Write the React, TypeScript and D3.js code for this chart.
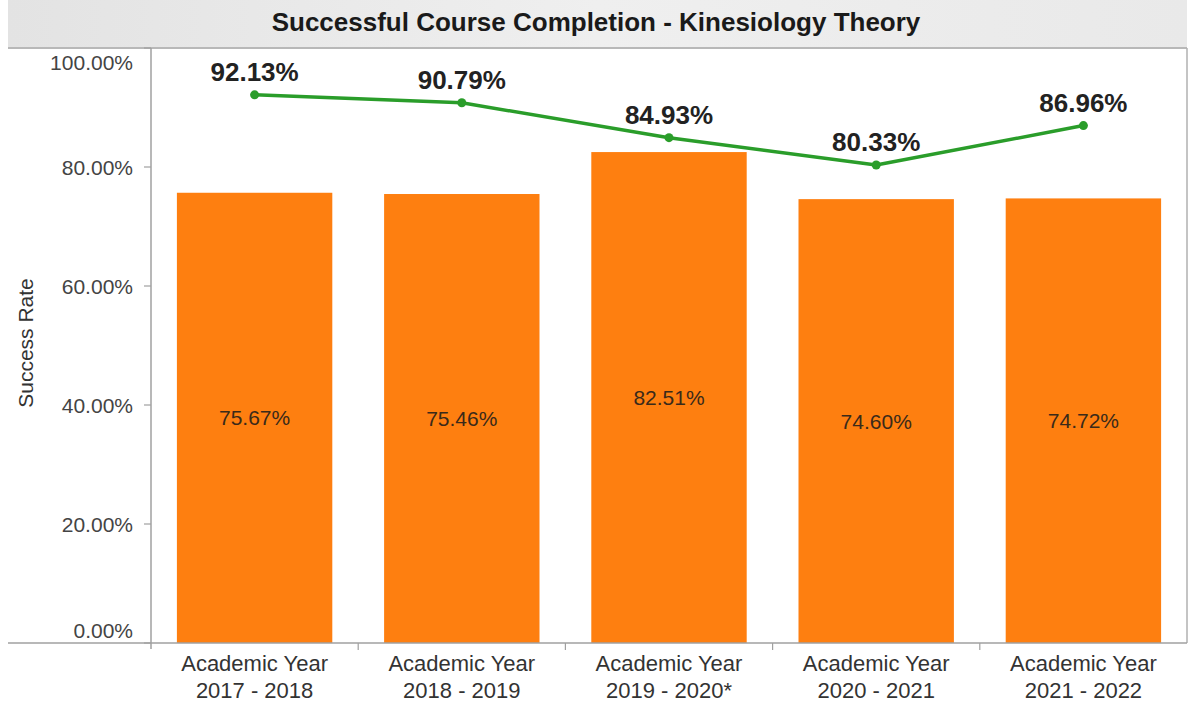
import React from "react";
import * as d3 from "d3";

const categoriesTop = ["Academic Year", "Academic Year", "Academic Year", "Academic Year", "Academic Year"];
const categoriesBottom = ["2017 - 2018", "2018 - 2019", "2019 - 2020*", "2020 - 2021", "2021 - 2022"];
const barValues = [75.67, 75.46, 82.51, 74.6, 74.72];
const lineValues = [92.13, 90.79, 84.93, 80.33, 86.96];
const yTicks = [0, 20, 40, 60, 80, 100];
const title = "Successful Course Completion - Kinesiology Theory";
const yTitle = "Success Rate";

const W = 1191;
const H = 703;
const left = 151;
const right = 1187;
const top = 48;
const bottom = 643;
const FONT = "'Liberation Sans', Arial, sans-serif";

export default function App() {
  const keys = categoriesBottom.map((_, i) => String(i));
  const x = d3.scaleBand<string>().domain(keys).range([left, right]).paddingInner(0.25).paddingOuter(0.125);
  const y = d3.scaleLinear().domain([0, 100]).range([bottom, top]);
  const line = d3
    .line<number>()
    .x((_, i) => (x(keys[i]) as number) + x.bandwidth() / 2)
    .y((d) => y(d));
  const fmt = (v: number) => v.toFixed(2) + "%";
  const step = x.step();

  return (
    <svg width={W} height={H} style={{ position: "absolute", left: 0, top: 0, background: "#fff" }} fontFamily={FONT}>
      <defs>
        <linearGradient id="tg" x1="0" x2="1" y1="0" y2="0">
          <stop offset="0" stopColor="#e3e3e3" />
          <stop offset="0.5" stopColor="#efefef" />
          <stop offset="1" stopColor="#e9e9e9" />
        </linearGradient>
      </defs>
      <rect x={8} y={0} width={right - 8} height={top - 1} fill="url(#tg)" />
      <text x={596} y={22} textAnchor="middle" dominantBaseline="central" fontSize={26} fontWeight="bold" fill="#1a1a1a">
        {title}
      </text>

      {/* bars */}
      {barValues.map((v, i) => (
        <rect key={"b" + i} x={x(keys[i])} y={y(v)} width={x.bandwidth()} height={y(0) - y(v)} fill="#fe7f10" />
      ))}
      {barValues.map((v, i) => (
        <text
          key={"bl" + i}
          x={(x(keys[i]) as number) + x.bandwidth() / 2}
          y={(y(v) + y(0)) / 2}
          textAnchor="middle"
          dominantBaseline="central"
          fontSize={21}
          fill="#3a2a1a"
        >
          {fmt(v)}
        </text>
      ))}

      {/* frame */}
      <line x1={8} x2={right} y1={top} y2={top} stroke="#a0a0a0" strokeWidth={1.5} />
      <line x1={right} x2={right} y1={top} y2={bottom} stroke="#b0b0b0" strokeWidth={1.5} />
      <line x1={8} x2={right} y1={bottom} y2={bottom} stroke="#a0a0a0" strokeWidth={1.5} />
      <line x1={left} x2={left} y1={top} y2={bottom + 6} stroke="#a0a0a0" strokeWidth={1.5} />

      {/* y ticks */}
      {yTicks.map((t, i) => {
        const ty = y(t);
        let ly = ty;
        if (i === 0) ly = ty - 13;
        if (i === yTicks.length - 1) ly = ty + 14;
        return (
          <g key={"yt" + t}>
            <line x1={left - 7} x2={left} y1={ty} y2={ty} stroke="#a0a0a0" strokeWidth={1.2} />
            <text x={133} y={ly} textAnchor="end" dominantBaseline="central" fontSize={21} fill="#444">
              {fmt(t)}
            </text>
          </g>
        );
      })}

      {/* x ticks between categories */}
      {keys.slice(1).map((k, i) => {
        const tx = (x(k) as number) - (step - x.bandwidth()) / 2;
        return <line key={"xt" + i} x1={tx} x2={tx} y1={bottom} y2={bottom + 7} stroke="#a0a0a0" strokeWidth={1.2} />;
      })}

      {/* x labels */}
      {keys.map((k, i) => {
        const cx = (x(k) as number) + x.bandwidth() / 2;
        return (
          <g key={"xl" + i}>
            <text x={cx} y={663} textAnchor="middle" dominantBaseline="central" fontSize={22} fill="#333">
              {categoriesTop[i]}
            </text>
            <text x={cx} y={690} textAnchor="middle" dominantBaseline="central" fontSize={22} fill="#333">
              {categoriesBottom[i]}
            </text>
          </g>
        );
      })}

      {/* y title */}
      <text
        transform={`translate(25,${343}) rotate(-90)`}
        textAnchor="middle"
        dominantBaseline="central"
        fontSize={21}
        fill="#333"
      >
        {yTitle}
      </text>

      {/* line */}
      <path d={line(lineValues) || ""} fill="none" stroke="#2a9d2a" strokeWidth={3.5} strokeLinejoin="round" />
      {lineValues.map((v, i) => (
        <circle key={"p" + i} cx={(x(keys[i]) as number) + x.bandwidth() / 2} cy={y(v)} r={4.5} fill="#2a9d2a" />
      ))}
      {lineValues.map((v, i) => (
        <text
          key={"ll" + i}
          x={(x(keys[i]) as number) + x.bandwidth() / 2}
          y={y(v) - 23}
          textAnchor="middle"
          dominantBaseline="central"
          fontSize={26}
          fontWeight="bold"
          fill="#222"
        >
          {fmt(v)}
        </text>
      ))}
    </svg>
  );
}
